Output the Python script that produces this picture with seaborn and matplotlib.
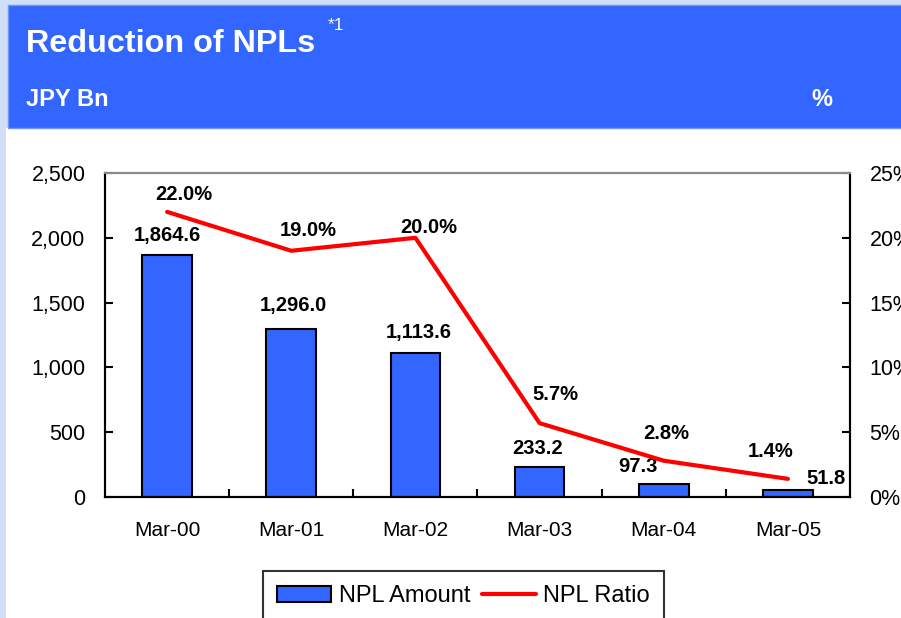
import numpy as np
import pandas as pd
import seaborn as sns
import matplotlib.pyplot as plt
from matplotlib.patches import Rectangle
from matplotlib.ticker import FuncFormatter

# ---- data
periods = ["Mar-00", "Mar-01", "Mar-02", "Mar-03", "Mar-04", "Mar-05"]
npl_amount = [1864.6, 1296.0, 1113.6, 233.2, 97.3, 51.8]
npl_ratio = [22.0, 19.0, 20.0, 5.7, 2.8, 1.4]

# label nudges in pixels (style only)
amount_offsets = [(0, 20), (2, 24), (3, 20), (-2, 18), (-26, 18), (38, 12)]
ratio_offsets = [(17, 17), (17, 20), (13, 10), (16, 29), (2, 27), (-17, 27)]

BLUE = "#3366ff"
PALE = "#d0dff5"

sns.set_style("ticks")
plt.rcParams["font.family"] = ["Liberation Sans", "DejaVu Sans"]
plt.rcParams["text.color"] = "black"
plt.rcParams["xtick.color"] = "black"
plt.rcParams["ytick.color"] = "black"
plt.rcParams["axes.labelcolor"] = "black"

df = pd.DataFrame({"period": periods, "amount": npl_amount, "ratio": npl_ratio})

W, H = 901, 618
fig = plt.figure(figsize=(W / 100, H / 100), dpi=100)
fig.patch.set_facecolor("white")

# background panels
fig.patches.append(Rectangle((0, 0), 1, 1, transform=fig.transFigure,
                             facecolor=PALE, edgecolor="none", zorder=-3))
fig.patches.append(Rectangle((6 / W, 0), 1, 1 - 128 / H, transform=fig.transFigure,
                             facecolor="white", edgecolor="none", zorder=-2))
fig.patches.append(Rectangle((8 / W, 1 - 128 / H), 1, 123 / H, transform=fig.transFigure,
                             facecolor=BLUE, edgecolor="#6f95ff", linewidth=1, zorder=-1))

fig.text(26 / W, 1 - 44 / H, "Reduction of NPLs", color="white", fontsize=23.3,
         fontweight="bold", va="center", ha="left")
fig.text(328 / W, 1 - 26 / H, "*1", color="white", fontsize=12.5, va="center", ha="left")
fig.text(26 / W, 1 - 100 / H, "JPY Bn", color="white", fontsize=17,
         fontweight="bold", va="center", ha="left")
fig.text(822 / W, 1 - 100 / H, "%", color="white", fontsize=17,
         fontweight="bold", va="center", ha="center")

ax = fig.add_axes([105 / W, 1 - 497 / H, 745 / W, 324 / H])
ax.set_facecolor("none")

sns.barplot(data=df, x="period", y="amount", color=BLUE, width=0.4,
            edgecolor="black", linewidth=1.5, saturation=1, ax=ax, label="NPL Amount")
ax.set_ylim(0, 2500)
ax.set_xlim(-0.5, len(periods) - 0.5)
ax.set_yticks(np.arange(0, 2501, 500))
ax.yaxis.set_major_formatter(FuncFormatter(lambda v, p: f"{v:,.0f}"))
ax.set_xlabel("")
ax.set_ylabel("")

# x ticks at category boundaries, labels at centres
ax.set_xticks(np.arange(len(periods)))
ax.set_xticklabels(periods)
ax.tick_params(axis="x", length=0, labelsize=15, pad=17)
ax.set_xticks(np.arange(0.5, len(periods) - 0.5, 1), minor=True)
ax.tick_params(axis="x", which="minor", direction="in", length=6, width=1.5)
ax.tick_params(axis="y", direction="in", length=6, width=1.5, labelsize=15.5, pad=14)

ax2 = ax.twinx()
sns.lineplot(x=np.arange(len(periods)), y=npl_ratio, color="red", linewidth=3,
             ax=ax2, label="NPL Ratio")
ax2.set_ylim(0, 25)
ax2.set_yticks(np.arange(0, 26, 5))
ax2.yaxis.set_major_formatter(FuncFormatter(lambda v, p: f"{v:.0f}%"))
ax2.tick_params(axis="y", direction="in", length=6, width=1.5, labelsize=15.5, pad=14)
ax2.get_legend().remove()

for a in (ax, ax2):
    for side in ("left", "right", "bottom"):
        a.spines[side].set_color("black")
        a.spines[side].set_linewidth(1.5)
    a.spines["top"].set_color("#8a8a8a")
    a.spines["top"].set_linewidth(1.5)
    a.spines["top"].set_visible(True)
    a.spines["right"].set_visible(True)

for i, (v, off) in enumerate(zip(npl_amount, amount_offsets)):
    ax.annotate(f"{v:,.1f}", xy=(i, v), xytext=off, textcoords="offset pixels",
                ha="center", va="center", fontsize=14.5, fontweight="bold")
for i, (v, off) in enumerate(zip(npl_ratio, ratio_offsets)):
    ax2.annotate(f"{v:.1f}%", xy=(i, v), xytext=off, textcoords="offset pixels",
                 ha="center", va="center", fontsize=14.5, fontweight="bold")

h1, l1 = ax.get_legend_handles_labels()
h2, l2 = ax2.get_legend_handles_labels()
if ax.get_legend() is not None:
    ax.get_legend().remove()
leg = fig.legend(h1 + h2, l1 + l2, loc="upper center", ncol=2,
                 bbox_to_anchor=(463.5 / W, 1 - 571 / H), fontsize=17,
                 frameon=True, fancybox=False, edgecolor="black",
                 handlelength=2.3, handletextpad=0.3, columnspacing=0.5,
                 borderpad=0.6, borderaxespad=0)
leg.get_frame().set_linewidth(1.5)

fig.savefig("out.png", dpi=100)
